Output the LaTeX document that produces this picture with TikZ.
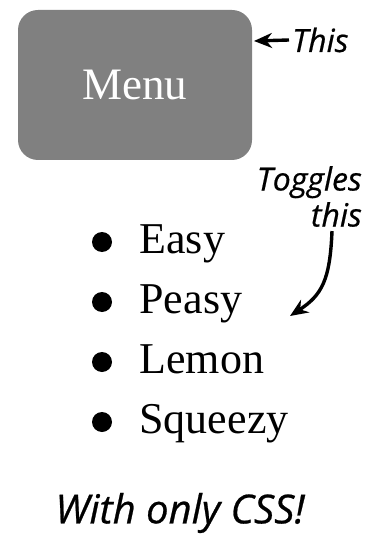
\documentclass[tikz,border=0pt]{standalone}
\usepackage{fontspec}
\setmainfont{Liberation Serif}
\newfontfamily\handfont[FakeBold=0.6]{Open Sans}
\usetikzlibrary{arrows.meta,positioning}

\begin{document}
\begin{tikzpicture}[x=1pt,y=-1pt,
  menubox/.style={fill=black!50,rounded corners=20pt,minimum width=234pt,minimum height=150pt,text=white,font=\fontsize{45}{45}\selectfont},
  item/.style={anchor=base west,font=\fontsize{44}{44}\selectfont},
  dot/.style={circle,fill=black,inner sep=0pt,minimum size=20pt},
  note/.style={font=\handfont\itshape\fontsize{32}{36}\selectfont,align=right,inner sep=0pt},
  arr/.style={-{Stealth[length=18pt,width=15pt]},line width=3.4pt}]
  \useasboundingbox (0,0) rectangle (370,537);
  % Menu button
  \node[menubox] (menu) at (135,85) {Menu};
  \node[note,anchor=base west] (this) at (292,52) {This};
  \coordinate (menuedge) at (254,41);
  \draw[arr] ([xshift=-3pt]this.west) -- (menuedge);
  % List
  \node[dot] (d1) at (102,242) {};
  \node[item] (easy) at (136,253) {Easy};
  \node[dot] (d2) at (102,302) {};
  \node[item] (peasy) at (136,313) {Peasy};
  \node[dot] (d3) at (102,362) {};
  \node[item] (lemon) at (136,373) {Lemon};
  \node[dot] (d4) at (102,422) {};
  \node[item] (squeezy) at (136,433) {Squeezy};
  % Toggle note
  \node[note,anchor=north east] (toggles) at (362,166) {Toggles\\this};
  \coordinate (listpt) at (290,316);
  \draw[arr] ([xshift=-30pt,yshift=-4pt]toggles.south east) .. controls (330,280) and (322,295) .. (listpt);
  % Footer
  \node[note,font=\handfont\itshape\fontsize{40}{40}\selectfont] (css) at (180,513) {With only CSS!};
\end{tikzpicture}
\end{document}
